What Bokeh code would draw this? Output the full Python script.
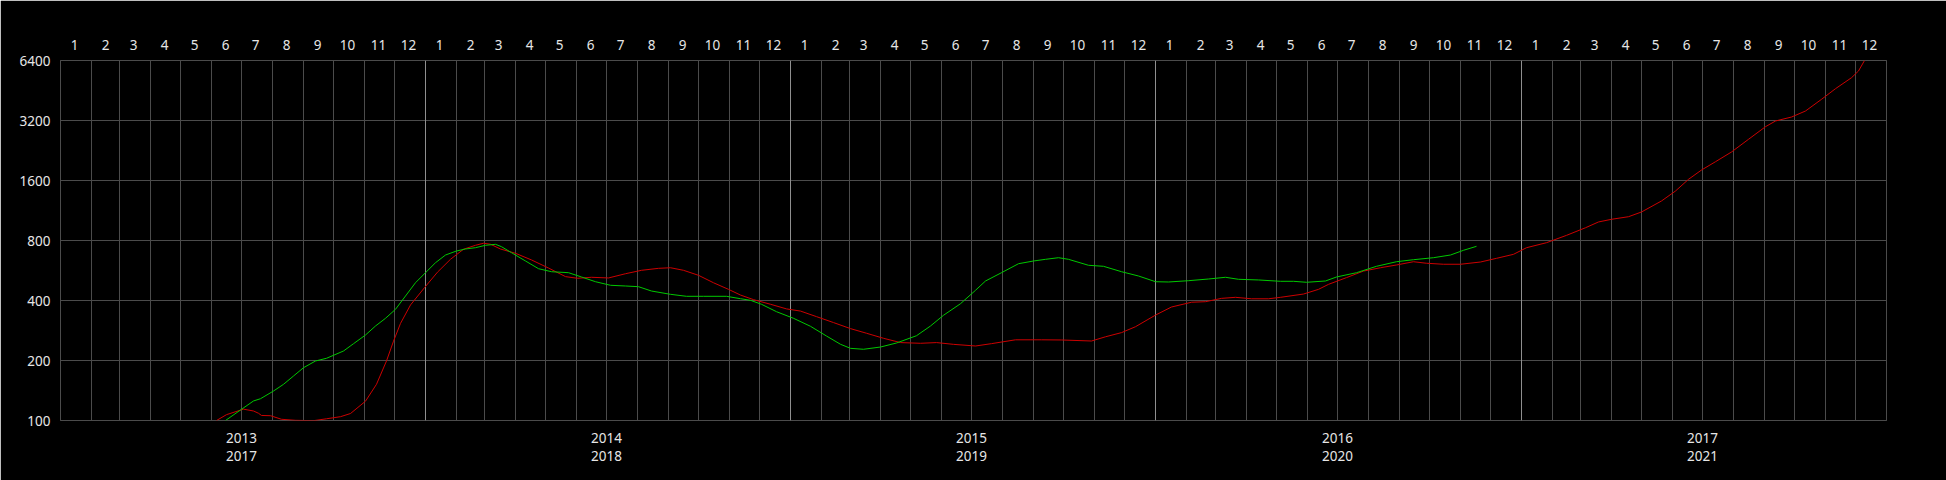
import pandas as pd
from bokeh.plotting import figure
from bokeh.models import (Range1d, LogScale, LogAxis, LinearAxis, FixedTicker, Grid,
                          BasicTickFormatter, CustomJSTickFormatter, ColumnDataSource,
                          LabelSet, AllLabels)
from bokeh.embed import file_html
from bokeh.resources import INLINE

# ---------------- data ----------------
red_dates = [
    "2013-06-06", "2013-06-16", "2013-07-03", "2013-07-13", "2013-07-18", "2013-07-21",
    "2013-07-30", "2013-08-10", "2013-08-24", "2013-09-11", "2013-09-24", "2013-10-08",
    "2013-10-18", "2013-11-02", "2013-11-13", "2013-11-23", "2013-11-30", "2013-12-07",
    "2013-12-17", "2013-12-31", "2014-01-13", "2014-01-26", "2014-02-08", "2014-02-20",
    "2014-02-28", "2014-03-07", "2014-03-17", "2014-04-01", "2014-04-17", "2014-05-04",
    "2014-05-21", "2014-06-02", "2014-06-16", "2014-07-03", "2014-07-20", "2014-08-05",
    "2014-08-22", "2014-09-03", "2014-09-16", "2014-10-01", "2014-10-16", "2014-10-31",
    "2014-11-12", "2014-11-25", "2014-12-12", "2014-12-28", "2015-01-11", "2015-01-27",
    "2015-02-13", "2015-03-02", "2015-03-18", "2015-04-04", "2015-04-21", "2015-05-11",
    "2015-05-27", "2015-06-13", "2015-07-05", "2015-07-21", "2015-08-14", "2015-09-09",
    "2015-09-29", "2015-10-29", "2015-11-12", "2015-11-28", "2015-12-12", "2016-01-01",
    "2016-01-17", "2016-02-06", "2016-02-20", "2016-03-07", "2016-03-21", "2016-04-06",
    "2016-04-23", "2016-05-05", "2016-05-28", "2016-06-12", "2016-06-22", "2016-07-10",
    "2016-07-27", "2016-08-13", "2016-08-29", "2016-09-15", "2016-09-28", "2016-10-15",
    "2016-11-01", "2016-11-21", "2016-12-07", "2016-12-24", "2017-01-06", "2017-01-26",
    "2017-02-15", "2017-03-06", "2017-03-19", "2017-04-01", "2017-04-18", "2017-05-01",
    "2017-05-21", "2017-06-04", "2017-06-17", "2017-06-30", "2017-07-14", "2017-07-30",
    "2017-08-16", "2017-09-02", "2017-09-12", "2017-09-28", "2017-10-12", "2017-10-28",
    "2017-11-11", "2017-11-27", "2017-12-04", "2017-12-10",
]
red_values = [
    100, 107, 114, 111.6, 108.7, 106,
    105.7, 101.4, 100.2, 99.8, 102, 104.5,
    108.4, 125, 152, 199, 250, 307,
    380, 464, 555, 644, 723, 757,
    775, 766, 725, 690, 639, 582,
    527, 517, 523, 519, 545, 567,
    580, 584, 567, 535, 491, 455,
    426, 404, 383, 363, 354, 332,
    310, 289, 274, 258.5, 246, 244,
    246, 241, 236.5, 243, 254, 254,
    253.5, 250.5, 263, 276, 295.5, 338,
    371, 392, 394.5, 410, 415, 408,
    408, 415, 431, 455, 482, 521,
    562, 584, 603, 626, 615, 608,
    608, 624, 651, 682, 736, 780,
    849, 927, 991, 1022, 1053, 1112,
    1263, 1417, 1622, 1806, 1988, 2224,
    2575, 2979, 3182, 3331, 3571, 4087,
    4621, 5246, 5669, 6400,
]

green_dates = [
    "2017-06-15", "2017-07-01", "2017-07-13", "2017-07-20", "2017-08-02", "2017-08-12",
    "2017-08-22", "2017-09-01", "2017-09-13", "2017-09-24", "2017-10-11", "2017-10-21",
    "2017-11-02", "2017-11-12", "2017-11-22", "2017-12-02", "2017-12-12", "2017-12-22",
    "2018-01-01", "2018-01-11", "2018-01-21", "2018-02-01", "2018-02-10", "2018-02-20",
    "2018-03-02", "2018-03-12", "2018-03-18", "2018-03-28", "2018-04-11", "2018-04-24",
    "2018-05-07", "2018-05-24", "2018-06-06", "2018-06-20", "2018-07-05", "2018-07-20",
    "2018-08-02", "2018-08-15", "2018-09-03", "2018-09-19", "2018-10-06", "2018-10-29",
    "2018-11-12", "2018-11-22", "2018-12-03", "2018-12-18", "2019-01-04", "2019-01-21",
    "2019-02-06", "2019-02-20", "2019-03-02", "2019-03-15", "2019-04-01", "2019-04-17",
    "2019-05-07", "2019-05-21", "2019-06-03", "2019-06-20", "2019-07-05", "2019-07-15",
    "2019-07-31", "2019-08-17", "2019-09-01", "2019-09-13", "2019-09-26", "2019-10-06",
    "2019-10-26", "2019-11-10", "2019-11-28", "2019-12-15", "2020-01-01", "2020-01-14",
    "2020-02-03", "2020-02-23", "2020-03-11", "2020-03-24", "2020-04-13", "2020-05-05",
    "2020-05-18", "2020-05-31", "2020-06-19", "2020-06-30", "2020-07-20", "2020-08-09",
    "2020-08-29", "2020-09-15", "2020-10-05", "2020-10-22", "2020-11-04", "2020-11-17",
]
green_values = [
    1600, 1821, 2005, 2058, 2249, 2430,
    2675, 2944, 3182, 3283, 3571, 3885,
    4296, 4767, 5210, 5781, 6741, 7862,
    8824, 9904, 10824, 11338, 11603, 11778,
    12109, 12250, 11915, 11120, 10101, 9242,
    8926, 8824, 8397, 7952, 7629, 7568,
    7507, 7141, 6874, 6718, 6718, 6718,
    6534, 6414, 6126, 5624, 5210, 4750,
    4246, 3859, 3683, 3643, 3739, 3917,
    4261, 4767, 5395, 6168, 7200, 8018,
    8824, 9789, 10101, 10299, 10493, 10299,
    9613, 9501, 8926, 8494, 7952, 7925,
    8045, 8203, 8368, 8176, 8114, 7989,
    7989, 7898, 8018, 8397, 8824, 9501,
    10019, 10253, 10493, 10824, 11432, 11968,
]

left_ticks = [100, 200, 400, 800, 1600, 3200, 6400]
right_ticks = [1600, 3200, 6400, 12800, 25600, 51200, 102400]
month_labels = [str(m) for m in range(1, 13)]
red_years = [2013, 2014, 2015, 2016, 2017]
green_years = [2017, 2018, 2019, 2020, 2021]

# ---------------- style ----------------
FONT = "Noto Sans"
FSIZE = "13.5px"
TXT = "#e6e6e6"
GRID = "#4b4b4b"
YEAR_GRID = "#8f8f8f"
RED = "#cc0000"
GREEN = "#00c800"


def ms(ts):
    return int(pd.Timestamp(ts).value // 10**6)


x_start, x_end = pd.Timestamp(f"{red_years[0]}-01-01"), pd.Timestamp(f"{red_years[-1] + 1}-01-01")
g_start, g_end = pd.Timestamp(f"{green_years[0]}-01-01"), pd.Timestamp(f"{green_years[-1] + 1}-01-01")

p = figure(frame_width=1826, frame_height=360,
           x_axis_type="datetime", y_axis_type="log",
           x_axis_location=None, y_axis_location=None,
           x_range=Range1d(x_start, x_end), y_range=Range1d(left_ticks[0], left_ticks[-1]),
           output_backend="svg", toolbar_location=None,
           background_fill_color="black", border_fill_color="black",
           outline_line_color=GRID,
           min_border_left=60, min_border_right=60, min_border_top=60, min_border_bottom=60)
p.extra_x_ranges = {"g": Range1d(g_start, g_end)}
p.extra_y_ranges = {"g": Range1d(right_ticks[0], right_ticks[-1])}
p.extra_y_scales = {"g": LogScale()}

# remove default grids
p.center = [r for r in p.center if not isinstance(r, Grid)]

month_starts = [ms(t) for t in pd.date_range(x_start, x_end, freq="MS", inclusive="left")]
year_starts = [ms(pd.Timestamp(f"{y}-01-01")) for y in red_years[1:]]
mid_months = [ms(t + pd.Timedelta(days=14)) for t in pd.date_range(x_start, x_end, freq="MS", inclusive="left")]

p.add_layout(Grid(dimension=1, ticker=FixedTicker(ticks=left_ticks), grid_line_color=GRID))
p.add_layout(Grid(dimension=0, ticker=FixedTicker(ticks=month_starts), grid_line_color=GRID))
p.add_layout(Grid(dimension=0, ticker=FixedTicker(ticks=year_starts), grid_line_color=YEAR_GRID))


def style(ax, standoff):
    ax.axis_line_color = None
    ax.major_tick_line_color = None
    ax.minor_tick_line_color = None
    ax.major_tick_in = 0
    ax.major_tick_out = 0
    ax.minor_tick_in = 0
    ax.minor_tick_out = 0
    ax.major_label_standoff = standoff
    ax.major_label_text_font = FONT
    ax.major_label_text_font_size = FSIZE
    ax.major_label_text_color = TXT
    ax.major_label_policy = AllLabels()


# left axis
left = LogAxis(ticker=FixedTicker(ticks=left_ticks), formatter=BasicTickFormatter(use_scientific=False))
style(left, 10)
p.add_layout(left, "left")

# top month axis
top = LinearAxis(ticker=FixedTicker(ticks=mid_months),
                 formatter=CustomJSTickFormatter(args=dict(labels=month_labels),
                                                 code="return labels[new Date(tick).getUTCMonth()]"))
style(top, 11)
p.add_layout(top, "above")

# bottom year axes
year_fmt = CustomJSTickFormatter(code="return String(new Date(tick).getUTCFullYear())")
bot1 = LinearAxis(ticker=FixedTicker(ticks=[ms(f"{y}-07-01") for y in red_years]), formatter=year_fmt)
style(bot1, 12)
p.add_layout(bot1, "below")
bot2 = LinearAxis(x_range_name="g", ticker=FixedTicker(ticks=[ms(f"{y}-07-01") for y in green_years]),
                  formatter=year_fmt)
style(bot2, 5)
p.add_layout(bot2, "below")

# right labels (right-aligned like the reference)
rsrc = ColumnDataSource(dict(x=[x_end] * len(right_ticks), y=right_ticks,
                             text=[str(t) for t in right_ticks]))
p.add_layout(LabelSet(x="x", y="y", text="text", source=rsrc, y_range_name="g",
                      x_offset=48, text_align="right", text_baseline="middle",
                      text_font=FONT, text_font_size=FSIZE, text_color=TXT))

# series
red_src = ColumnDataSource(dict(date=pd.to_datetime(red_dates), value=red_values))
green_src = ColumnDataSource(dict(date=pd.to_datetime(green_dates), value=green_values))
p.line("date", "value", source=red_src, line_color=RED, line_width=1)
p.line("date", "value", source=green_src, line_color=GREEN, line_width=1,
       x_range_name="g", y_range_name="g")

open("out.html", "w").write(file_html(p, INLINE))
